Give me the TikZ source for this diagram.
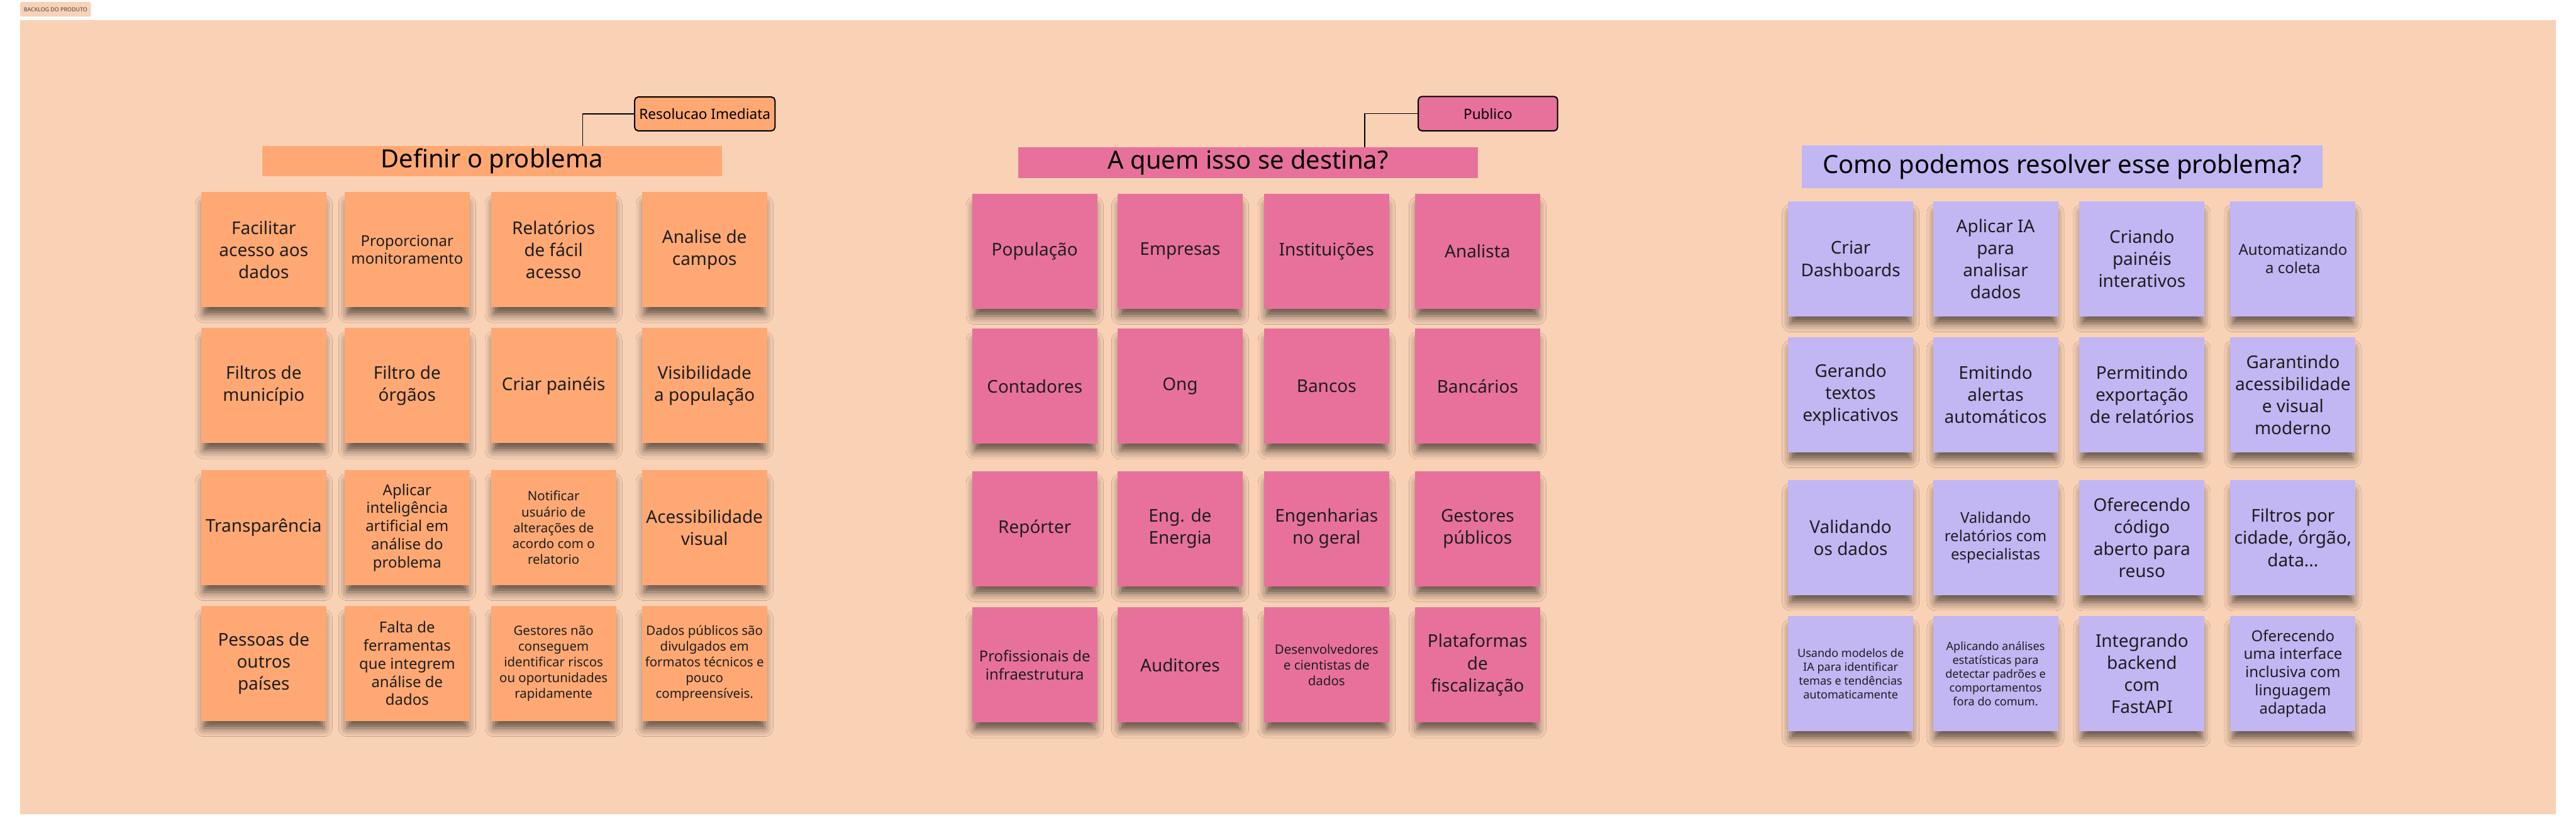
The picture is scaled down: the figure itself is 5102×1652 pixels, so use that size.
\documentclass[tikz,border=0pt]{standalone}
\usepackage{fontspec}
\setmainfont{Noto Sans}
\usetikzlibrary{shadows.blur}

\definecolor{boardbg}{HTML}{F9D2B6}
\definecolor{orangenote}{HTML}{FFA874}
\definecolor{pinknote}{HTML}{E8719B}
\definecolor{lilacnote}{HTML}{C2B6F3}
\definecolor{inkcol}{HTML}{1E1E1E}

\tikzset{
    sticky/.style={anchor=north west, minimum width=4.96cm, minimum height=4.56cm,
        inner sep=0pt, align=center, text=inkcol,
        blur shadow={shadow xshift=0pt, shadow yshift=-11pt, shadow blur radius=10pt,
            shadow opacity=62, shadow scale=0.96}},
    txtL/.style={font=\fontsize{19.8}{24.9}\selectfont},
    txtM/.style={font=\fontsize{17}{20.4}\selectfont},
    txtS/.style={font=\fontsize{14.5}{17.8}\selectfont},
    txtXS/.style={font=\fontsize{12.8}{15.6}\selectfont},
    titlebar/.style={inner sep=0pt, text=black, font=\fontsize{28.3}{34}\selectfont},
    tagbox/.style={draw=black, line width=1.4pt, rounded corners=4pt, inner sep=0pt,
        text=black, font=\fontsize{16}{19}\selectfont},
    link/.style={line width=1.1pt, black}
}

\begin{document}
\begin{tikzpicture}[x=0.02cm, y=-0.02cm]

        % Page and board
        \fill[white] (0,0) rectangle (5102,1652);
        \useasboundingbox (0,0) rectangle (5102,1652);
        \fill[boardbg] (40,40) rectangle (5062,1612);
        \node[fill=boardbg, rounded corners=2pt, minimum width=2.8cm, minimum height=0.58cm,
            inner sep=0pt, text=inkcol!85, font=\fontsize{6.3}{7}\selectfont] (backlog) at (110,18.5) {BACKLOG DO PRODUTO};

        % Definir o problema
        \node[titlebar, fill=orangenote, minimum width=18.22cm, minimum height=1.2cm] (definir) at (974.5,319) {Definir o problema};
        \node[tagbox, fill=orangenote, minimum width=5.56cm, minimum height=1.34cm] (resol) at (1396,225.5) {Resolucao Imediata};
        \coordinate (kneeA) at (1154,289);
        \draw[link] (resol.west) -| (kneeA);

        \node[sticky, fill=orangenote, txtL] (prob11) at (398,380) {Facilitar\\acesso aos\\dados};
        \node[sticky, fill=orangenote, txtM] (prob12) at (682,380) {Proporcionar\\monitoramento};
        \node[sticky, fill=orangenote, txtL] (prob13) at (972,380) {Relatórios\\de fácil\\acesso};
        \node[sticky, fill=orangenote, txtL] (prob14) at (1271,380) {Analise de\\campos};
        \node[sticky, fill=orangenote, txtL] (prob21) at (398,649) {Filtros de\\município};
        \node[sticky, fill=orangenote, txtL] (prob22) at (682,649) {Filtro de\\órgãos};
        \node[sticky, fill=orangenote, txtL] (prob23) at (972,649) {Criar painéis};
        \node[sticky, fill=orangenote, txtL] (prob24) at (1271,649) {Visibilidade\\a população};
        \node[sticky, fill=orangenote, txtL] (prob31) at (398,930) {Transparência};
        \node[sticky, fill=orangenote, txtM] (prob32) at (682,930) {Aplicar\\inteligência\\artificial em\\análise do\\problema};
        \node[sticky, fill=orangenote, txtS] (prob33) at (972,930) {Notificar\\usuário de\\alterações de\\acordo com o\\relatorio};
        \node[sticky, fill=orangenote, txtL] (prob34) at (1271,930) {Acessibilidade\\visual};
        \node[sticky, fill=orangenote, txtL] (prob41) at (398,1199) {Pessoas de\\outros\\países};
        \node[sticky, fill=orangenote, txtM] (prob42) at (682,1199) {Falta de\\ferramentas\\que integrem\\análise de\\dados};
        \node[sticky, fill=orangenote, txtS] (prob43) at (972,1199) {Gestores não\\conseguem\\identificar riscos\\ou oportunidades\\rapidamente};
        \node[sticky, fill=orangenote, txtS] (prob44) at (1271,1199) {Dados públicos são\\divulgados em\\formatos técnicos e\\pouco\\compreensíveis.};

        % A quem isso se destina?
        \node[titlebar, fill=pinknote, minimum width=18.2cm, minimum height=1.22cm] (destina) at (2472,321.5) {A quem isso se destina?};
        \node[tagbox, fill=pinknote, minimum width=5.52cm, minimum height=1.36cm] (publico) at (2947,225) {Publico};
        \coordinate (kneeB) at (2703,291);
        \draw[link] (publico.west) -| (kneeB);

        \node[sticky, fill=pinknote, txtL] (quem11) at (1925,383) {População};
        \node[sticky, fill=pinknote, txtL] (quem12) at (2213,383) {Empresas};
        \node[sticky, fill=pinknote, txtL] (quem13) at (2503,383) {Instituições};
        \node[sticky, fill=pinknote, txtL] (quem14) at (2802,383) {Analista};
        \node[sticky, fill=pinknote, txtL] (quem21) at (1925,650) {Contadores};
        \node[sticky, fill=pinknote, txtL] (quem22) at (2213,650) {Ong};
        \node[sticky, fill=pinknote, txtL] (quem23) at (2503,650) {Bancos};
        \node[sticky, fill=pinknote, txtL] (quem24) at (2802,650) {Bancários};
        \node[sticky, fill=pinknote, txtL] (quem31) at (1925,932) {Repórter};
        \node[sticky, fill=pinknote, txtL] (quem32) at (2213,932) {Eng. de\\Energia};
        \node[sticky, fill=pinknote, txtL] (quem33) at (2503,932) {Engenharias\\no geral};
        \node[sticky, fill=pinknote, txtL] (quem34) at (2802,932) {Gestores\\públicos};
        \node[sticky, fill=pinknote, txtM] (quem41) at (1925,1202) {Profissionais de\\infraestrutura};
        \node[sticky, fill=pinknote, txtL] (quem42) at (2213,1202) {Auditores};
        \node[sticky, fill=pinknote, txtS] (quem43) at (2503,1202) {Desenvolvedores\\e cientistas de\\dados};
        \node[sticky, fill=pinknote, txtL] (quem44) at (2802,1202) {Plataformas\\de\\fiscalização};

        % Como podemos resolver esse problema?
        \node[titlebar, fill=lilacnote, minimum width=20.62cm, minimum height=1.68cm] (resolver) at (4084.5,330) {Como podemos resolver esse problema?};

        \node[sticky, fill=lilacnote, txtL] (como11) at (3541,398) {Criar\\Dashboards};
        \node[sticky, fill=lilacnote, txtL] (como12) at (3828,398) {Aplicar IA\\para\\analisar\\dados};
        \node[sticky, fill=lilacnote, txtL] (como13) at (4118,398) {Criando\\painéis\\interativos};
        \node[sticky, fill=lilacnote, txtM] (como14) at (4417,398) {Automatizando\\a coleta};
        \node[sticky, fill=lilacnote, txtL] (como21) at (3541,667) {Gerando\\textos\\explicativos};
        \node[sticky, fill=lilacnote, txtL] (como22) at (3828,667) {Emitindo\\alertas\\automáticos};
        \node[sticky, fill=lilacnote, txtL] (como23) at (4118,667) {Permitindo\\exportação\\de relatórios};
        \node[sticky, fill=lilacnote, txtL] (como24) at (4417,667) {Garantindo\\acessibilidade\\e visual\\moderno};
        \node[sticky, fill=lilacnote, txtL] (como31) at (3541,950) {Validando\\os dados};
        \node[sticky, fill=lilacnote, txtM] (como32) at (3828,950) {Validando\\relatórios com\\especialistas};
        \node[sticky, fill=lilacnote, txtL] (como33) at (4118,950) {Oferecendo\\código\\aberto para\\reuso};
        \node[sticky, fill=lilacnote, txtL] (como34) at (4417,950) {Filtros por\\cidade, órgão,\\data...};
        \node[sticky, fill=lilacnote, txtXS] (como41) at (3541,1219) {Usando modelos de\\IA para identificar\\temas e tendências\\automaticamente};
        \node[sticky, fill=lilacnote, txtXS] (como42) at (3828,1219) {Aplicando análises\\estatísticas para\\detectar padrões e\\comportamentos\\fora do comum.};
        \node[sticky, fill=lilacnote, txtL] (como43) at (4118,1219) {Integrando\\backend\\com\\FastAPI};
        \node[sticky, fill=lilacnote, txtM] (como44) at (4417,1219) {Oferecendo\\uma interface\\inclusiva com\\linguagem\\adaptada};

\end{tikzpicture}
\end{document}
